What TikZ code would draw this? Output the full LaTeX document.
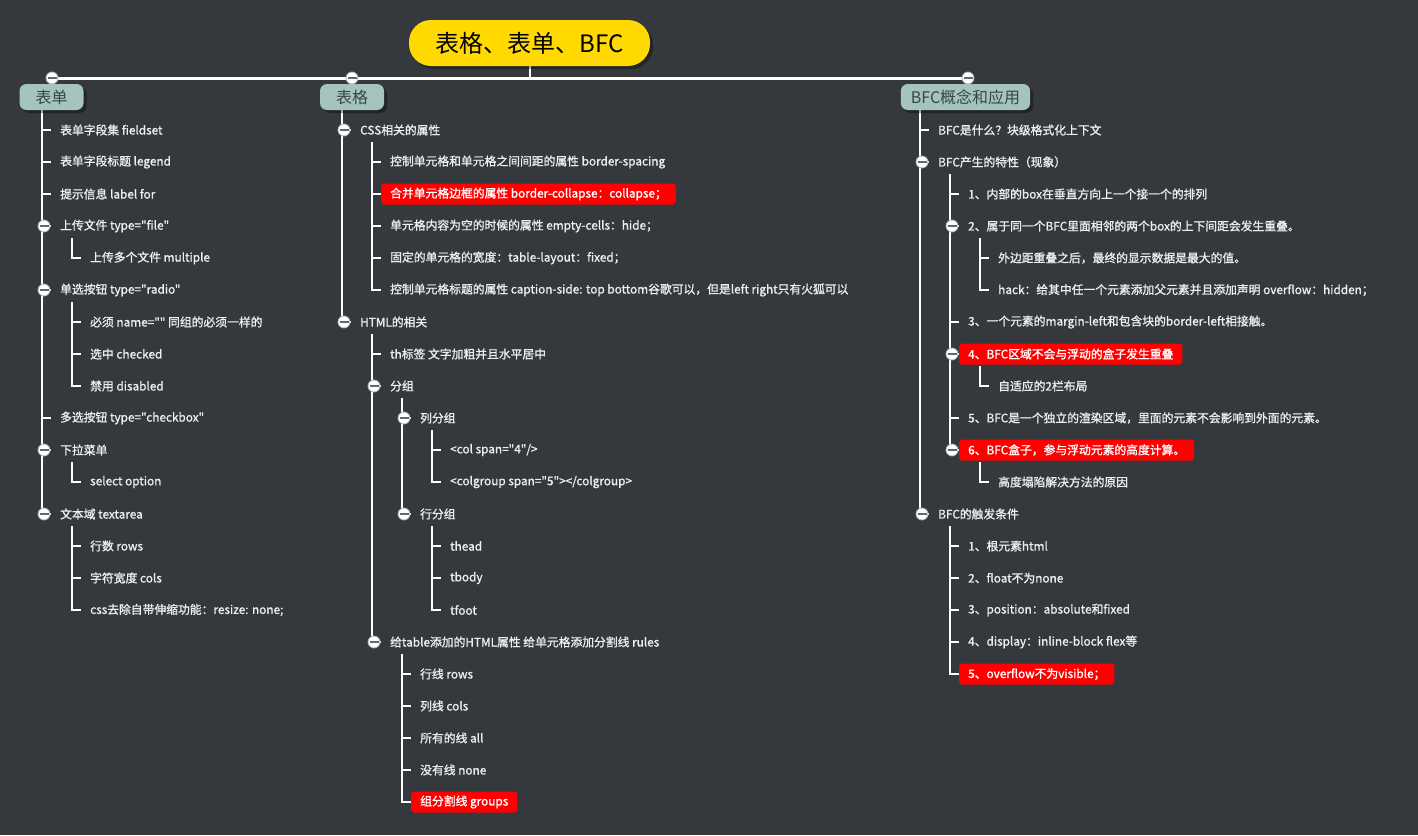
\documentclass[tikz,border=0pt]{standalone}
\usepackage{fontspec}
\setmainfont{Noto Sans CJK SC}
\newfontfamily\itemfont[FakeBold=1.2]{Noto Sans CJK SC}
\usepackage{tikz}
\usetikzlibrary{shadows}
\usetikzlibrary{backgrounds}

\definecolor{fondo}{RGB}{53,57,61}
\definecolor{ramo}{RGB}{164,196,189}
\definecolor{ramotexto}{RGB}{58,70,68}
\definecolor{amarillo}{RGB}{255,217,0}
\definecolor{rojo}{RGB}{255,0,0}
\definecolor{texto}{RGB}{238,238,238}

\begin{document}
\begin{tikzpicture}[x=1pt, y=-1pt,
    item/.style={anchor=west, inner xsep=9pt, inner ysep=0pt, minimum height=21pt,
      text=texto, font=\itemfont\fontsize{11.8}{14}\selectfont},
    hot/.style={item, fill=rojo, rounded corners=3pt, text=white},
    rama/.style={fill=ramo, rounded corners=7pt, minimum width=64pt, minimum height=26pt,
      inner xsep=10pt, text=ramotexto, font=\fontsize{16}{18}\selectfont,
      drop shadow={shadow xshift=3pt, shadow yshift=-3pt, fill=black, opacity=0.35}},
    raiz/.style={fill=amarillo, rounded corners=22pt, minimum width=241pt, minimum height=46pt,
      text=black, font=\fontsize{24}{28}\selectfont,
      drop shadow={shadow xshift=3pt, shadow yshift=-3pt, fill=black, opacity=0.35}},
    fold/.style={circle, fill=white, draw=gray!60, line width=0.8pt, minimum size=12pt, inner sep=0pt,
      path picture={\draw[gray!80!black, line width=2pt]
        ([xshift=-4.5pt]path picture bounding box.center) -- ([xshift=4.5pt]path picture bounding box.center);}},
    link/.style={draw=white, line width=2pt},
    eje/.style={draw=white, line width=3pt}]

  \useasboundingbox (0,0) rectangle (1418,835);

  % Raiz y ramas
  \node[raiz] (raiz) at (529.5,43) {表格、表单、BFC};
  \coordinate (kfm) at (52,78);
  \coordinate (ktb) at (352,78);
  \coordinate (kbf) at (968,78);
  \node[rama] (fm) at (51.5,97) {表单};
  \node[rama] (tb) at (352,97) {表格};
  \node[rama] (bf) at (965.5,97) {BFC概念和应用};
  \coordinate (fmT) at (42,110);
  \coordinate (tbT) at (342,110);
  \coordinate (bfT) at (920,110);

  % Nodos: 表单
  \node[item] (fm1) at (51,130) {表单字段集 fieldset};
  \node[item] (fm2) at (51,162) {表单字段标题 legend};
  \node[item] (fm3) at (51,194) {提示信息 label for};
  \node[item] (fm4) at (51,226) {上传文件 type="file"};
  \node[item] (fm41) at (81,258) {上传多个文件 multiple};
  \node[item] (fm5) at (51,290) {单选按钮 type="radio"};
  \node[item] (fm51) at (81,322) {必须 name="" 同组的必须一样的};
  \node[item] (fm52) at (81,354) {选中 checked};
  \node[item] (fm53) at (81,386) {禁用 disabled};
  \node[item] (fm6) at (51,418) {多选按钮 type="checkbox"};
  \node[item] (fm7) at (51,450) {下拉菜单};
  \node[item] (fm71) at (81,482) {select option};
  \node[item] (fm8) at (51,514) {文本域 textarea};
  \node[item] (fm81) at (81,546) {行数 rows};
  \node[item] (fm82) at (81,578) {字符宽度 cols};
  \node[item] (fm83) at (81,610) {css去除自带伸缩功能：resize: none;};

  % Nodos: 表格
  \node[item] (tb1) at (351,130) {CSS相关的属性};
  \node[item] (tb11) at (381,162) {控制单元格和单元格之间间距的属性 border-spacing};
  \node[hot] (tb12) at (381,194) {合并单元格边框的属性 border-collapse：collapse；};
  \node[item] (tb13) at (381,226) {单元格内容为空的时候的属性 empty-cells：hide；};
  \node[item] (tb14) at (381,258) {固定的单元格的宽度：table-layout：fixed；};
  \node[item] (tb15) at (381,290) {控制单元格标题的属性 caption-side: top bottom谷歌可以，但是left right只有火狐可以};
  \node[item] (tb2) at (351,322) {HTML的相关};
  \node[item] (tb21) at (381,354) {th标签 文字加粗并且水平居中};
  \node[item] (tb22) at (381,386) {分组};
  \node[item] (tb221) at (411,418) {列分组};
  \node[item] (tb2211) at (441,450) {<col span="4"/>};
  \node[item] (tb2212) at (441,482) {<colgroup span="5"></colgroup>};
  \node[item] (tb222) at (411,514) {行分组};
  \node[item] (tb2221) at (441,546) {thead};
  \node[item] (tb2222) at (441,578) {tbody};
  \node[item] (tb2223) at (441,610) {tfoot};
  \node[item] (tb23) at (381,642) {给table添加的HTML属性 给单元格添加分割线 rules};
  \node[item] (tb231) at (411,674) {行线 rows};
  \node[item] (tb232) at (411,706) {列线 cols};
  \node[item] (tb233) at (411,738) {所有的线 all};
  \node[item] (tb234) at (411,770) {没有线 none};
  \node[hot] (tb235) at (411,802) {组分割线 groups};

  % Nodos: BFC
  \node[item] (bf1) at (929,130) {BFC是什么？块级格式化上下文};
  \node[item] (bf2) at (929,162) {BFC产生的特性（现象）};
  \node[item] (bf21) at (959,194) {1、内部的box在垂直方向上一个接一个的排列};
  \node[item] (bf22) at (959,226) {2、属于同一个BFC里面相邻的两个box的上下间距会发生重叠。};
  \node[item] (bf221) at (989,258) {外边距重叠之后，最终的显示数据是最大的值。};
  \node[item] (bf222) at (989,290) {hack：给其中任一个元素添加父元素并且添加声明 overflow：hidden；};
  \node[item] (bf23) at (959,322) {3、一个元素的margin-left和包含块的border-left相接触。};
  \node[hot] (bf24) at (959,354) {4、BFC区域不会与浮动的盒子发生重叠};
  \node[item] (bf241) at (989,386) {自适应的2栏布局};
  \node[item] (bf25) at (959,418) {5、BFC是一个独立的渲染区域，里面的元素不会影响到外面的元素。};
  \node[hot] (bf26) at (959,450) {6、BFC盒子，参与浮动元素的高度计算。};
  \node[item] (bf261) at (989,482) {高度塌陷解决方法的原因};
  \node[item] (bf3) at (929,514) {BFC的触发条件};
  \node[item] (bf31) at (959,546) {1、根元素html};
  \node[item] (bf32) at (959,578) {2、float不为none};
  \node[item] (bf33) at (959,610) {3、position：absolute和fixed};
  \node[item] (bf34) at (959,642) {4、display：inline-block flex等};
  \node[hot] (bf35) at (959,674) {5、overflow不为visible；};

  % Conexiones
  \begin{scope}[on background layer]
    \fill[fondo] (0,0) rectangle (1418,835);
    \draw[eje] (kfm) -- (kbf);
    \draw[link] (raiz) -- (raiz |- kfm);
    \foreach \i in {1,...,8} \draw[link] (fmT) |- (fm\i.west);
    \draw[link] ([shift={(21,12)}]fm4.west) |- (fm41.west);
    \foreach \i in {51,52,53} \draw[link] ([shift={(21,12)}]fm5.west) |- (fm\i.west);
    \draw[link] ([shift={(21,12)}]fm7.west) |- (fm71.west);
    \foreach \i in {81,82,83} \draw[link] ([shift={(21,12)}]fm8.west) |- (fm\i.west);

    \foreach \i in {1,2} \draw[link] (tbT) |- (tb\i.west);
    \foreach \i in {11,...,15} \draw[link] ([shift={(21,12)}]tb1.west) |- (tb\i.west);
    \foreach \i in {21,22,23} \draw[link] ([shift={(21,12)}]tb2.west) |- (tb\i.west);
    \foreach \i in {221,222} \draw[link] ([shift={(21,12)}]tb22.west) |- (tb\i.west);
    \foreach \i in {2211,2212} \draw[link] ([shift={(21,12)}]tb221.west) |- (tb\i.west);
    \foreach \i in {2221,2222,2223} \draw[link] ([shift={(21,12)}]tb222.west) |- (tb\i.west);
    \foreach \i in {231,...,235} \draw[link] ([shift={(21,12)}]tb23.west) |- (tb\i.west);

    \foreach \i in {1,2,3} \draw[link] (bfT) |- (bf\i.west);
    \foreach \i in {21,...,26} \draw[link] ([shift={(21,12)}]bf2.west) |- (bf\i.west);
    \foreach \i in {221,222} \draw[link] ([shift={(21,12)}]bf22.west) |- (bf\i.west);
    \draw[link] ([shift={(21,12)}]bf24.west) |- (bf241.west);
    \draw[link] ([shift={(21,12)}]bf26.west) |- (bf261.west);
    \foreach \i in {31,...,35} \draw[link] ([shift={(21,12)}]bf3.west) |- (bf\i.west);
  \end{scope}

  % Botones de plegado
  \node[fold] (pfm) at (kfm) {};
  \node[fold] (ptb) at (ktb) {};
  \node[fold] (pbf) at (kbf) {};
  \foreach \n in {fm4,fm5,fm7,fm8,tb1,tb2,tb22,tb221,tb222,tb23,bf2,bf22,bf24,bf26,bf3}
    \node[fold] (p\n) at ([xshift=-7pt]\n.west) {};
\end{tikzpicture}
\end{document}
